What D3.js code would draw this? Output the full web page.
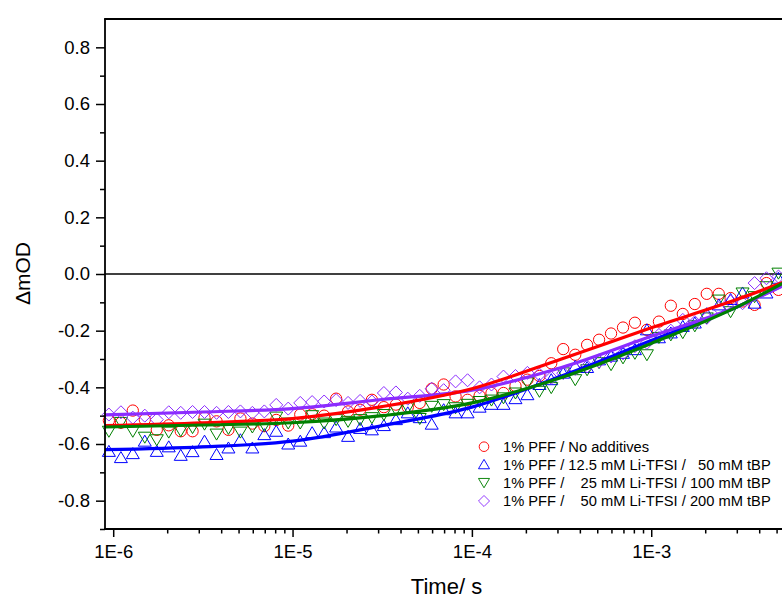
<!DOCTYPE html>
<html>
<head>
<meta charset="utf-8">
<script src="https://cdn.jsdelivr.net/npm/d3@7/dist/d3.min.js"></script>
<style>
  html, body { margin: 0; padding: 0; background: #fff; }
  svg { display: block; }
  text { font-family: "Liberation Sans", Arial, sans-serif; fill: #000; }
</style>
</head>
<body>
<svg id="chart" width="782" height="598"></svg>
<script>
// ---- data ----
const times = [
  9.46e-7, 1.104e-6, 1.286e-6, 1.50e-6, 1.75e-6, 2.04e-6, 2.38e-6, 2.77e-6, 3.23e-6, 3.77e-6, 4.39e-6, 5.12e-6, 5.97e-6, 6.96e-6, 8.11e-6,
  9.46e-6, 1.104e-5, 1.286e-5, 1.50e-5, 1.75e-5, 2.04e-5, 2.38e-5, 2.77e-5, 3.23e-5, 3.77e-5, 4.39e-5, 5.12e-5, 5.97e-5, 6.96e-5, 8.11e-5,
  9.46e-5, 1.104e-4, 1.286e-4, 1.50e-4, 1.75e-4, 2.04e-4, 2.38e-4, 2.77e-4, 3.23e-4, 3.77e-4, 4.39e-4, 5.12e-4, 5.97e-4, 6.96e-4, 8.11e-4,
  9.46e-4, 1.104e-3, 1.286e-3, 1.50e-3, 1.75e-3, 2.04e-3, 2.38e-3, 2.77e-3, 3.23e-3, 3.77e-3, 4.39e-3, 5.12e-3
];
const noAdditives = [
  -0.517, -0.525, -0.482, -0.514, -0.550, -0.534, -0.555, -0.555, -0.507, -0.520, -0.550, -0.510, -0.528, -0.537, -0.515,
  -0.535, -0.496, -0.495, -0.500, -0.440, -0.485, -0.479, -0.444, -0.470, -0.461, -0.470, -0.455, -0.405, -0.390, -0.432,
  -0.444, -0.430, -0.420, -0.420, -0.395, -0.373, -0.360, -0.315, -0.265, -0.285, -0.250, -0.232, -0.210, -0.189, -0.172,
  -0.197, -0.168, -0.112, -0.141, -0.106, -0.070, -0.070, -0.085, -0.097, -0.109, -0.032, -0.056
];
const li125 = [
  -0.626, -0.648, -0.634, -0.590, -0.626, -0.610, -0.640, -0.627, -0.590, -0.637, -0.614, -0.585, -0.614, -0.567, -0.555,
  -0.600, -0.590, -0.560, -0.560, -0.540, -0.573, -0.545, -0.550, -0.535, -0.514, -0.490, -0.507, -0.530, -0.479, -0.490,
  -0.490, -0.470, -0.460, -0.460, -0.440, -0.426, -0.390, -0.373, -0.350, -0.326, -0.330, -0.303, -0.290, -0.280, -0.267,
  -0.197, -0.225, -0.208, -0.185, -0.173, -0.140, -0.109, -0.090, -0.067, -0.103, -0.067, -0.015
];
const li25 = [
  -0.555, -0.524, -0.555, -0.576, -0.585, -0.558, -0.553, -0.542, -0.530, -0.565, -0.545, -0.558, -0.540, -0.535, -0.505,
  -0.526, -0.526, -0.500, -0.526, -0.514, -0.520, -0.514, -0.507, -0.496, -0.479, -0.472, -0.510, -0.467, -0.461, -0.472,
  -0.460, -0.450, -0.445, -0.437, -0.420, -0.384, -0.414, -0.401, -0.349, -0.373, -0.338, -0.313, -0.320, -0.296, -0.280,
  -0.285, -0.224, -0.215, -0.207, -0.183, -0.155, -0.092, -0.133, -0.067, -0.080, -0.045, 0.003
];
const li50 = [
  -0.496, -0.488, -0.507, -0.500, -0.514, -0.488, -0.490, -0.487, -0.487, -0.490, -0.487, -0.485, -0.490, -0.485, -0.462,
  -0.475, -0.455, -0.452, -0.450, -0.445, -0.455, -0.448, -0.450, -0.420, -0.418, -0.440, -0.430, -0.405, -0.410, -0.379,
  -0.375, -0.400, -0.390, -0.362, -0.360, -0.349, -0.355, -0.366, -0.350, -0.335, -0.326, -0.309, -0.291, -0.280, -0.255,
  -0.243, -0.215, -0.200, -0.162, -0.170, -0.155, -0.120, -0.097, -0.103, -0.032, -0.015, -0.009
];
// fitted curves
const fitTimes = [9e-7, 3.16e-6, 1e-5, 3.16e-5, 1e-4, 3.16e-4, 1e-3, 3.16e-3, 5.4e-3];
const fitNoAdditives = [-0.535, -0.525, -0.510, -0.468, -0.405, -0.300, -0.190, -0.085, -0.030];
const fitLi125 = [-0.620, -0.610, -0.590, -0.535, -0.470, -0.360, -0.235, -0.110, -0.040];
const fitLi25 = [-0.540, -0.533, -0.525, -0.500, -0.455, -0.365, -0.245, -0.110, -0.033];
const fitLi50 = [-0.497, -0.487, -0.475, -0.443, -0.410, -0.330, -0.220, -0.110, -0.042];

const seriesNames = [
  "1% PFF / No additives",
  "1% PFF / 12.5 mM Li-TFSI /   50 mM tBP",
  "1% PFF /    25 mM Li-TFSI / 100 mM tBP",
  "1% PFF /    50 mM Li-TFSI / 200 mM tBP"
];
const yTickLabels = ["-0.8", "-0.6", "-0.4", "-0.2", "0.0", "0.2", "0.4", "0.6", "0.8"];
const xTickLabels = ["1E-6", "1E-5", "1E-4", "1E-3"];

// ---- layout ----
const svg = d3.select("#chart");
const W = 782, H = 598;
const mLeft = 105, mTop = 19, mBottom = 529, mRight = 782;

const x = d3.scaleLog().domain([9e-7, 5.36e-3]).range([mLeft, mRight]);
const y = d3.scaleLinear().domain([-0.9, 0.9]).range([mBottom, mTop]);

svg.append("rect").attr("width", W).attr("height", H).attr("fill", "#fff");

const series = [
  { name: seriesNames[0], vals: noAdditives, fit: fitNoAdditives, mColor: "#ff0000", lColor: "#ff0000", sym: "circle" },
  { name: seriesNames[1], vals: li125, fit: fitLi125, mColor: "#0000ff", lColor: "#0000ff", sym: "up" },
  { name: seriesNames[2], vals: li25, fit: fitLi25, mColor: "#008000", lColor: "#008000", sym: "down" },
  { name: seriesNames[3], vals: li50, fit: fitLi50, mColor: "#8b2cff", lColor: "#8b2cff", sym: "diamond" }
];

function symPath(sym) {
  if (sym === "circle") return d3.symbol(d3.symbolCircle, 100)();
  if (sym === "up") return "M0,-6L6.5,5L-6.5,5Z";
  if (sym === "down") return "M0,6L6.5,-5L-6.5,-5Z";
  return "M0,-6.5L6.5,0L0,6.5L-6.5,0Z";
}

// zero line
svg.append("line")
  .attr("x1", mLeft).attr("x2", mRight)
  .attr("y1", y(0)).attr("y2", y(0))
  .attr("stroke", "#000").attr("stroke-width", 1.6);

// markers
const plot = svg.append("g");
series.forEach(s => {
  plot.append("g").selectAll("path")
    .data(times.map((t, i) => [t, s.vals[i]]))
    .join("path")
    .attr("d", symPath(s.sym))
    .attr("transform", d => `translate(${x(d[0])},${y(d[1])})`)
    .attr("fill", "none")
    .attr("stroke", s.mColor)
    .attr("stroke-width", 1);
});

// fit lines
const line = d3.line().x(d => x(d[0])).y(d => y(d[1])).curve(d3.curveMonotoneX);
[1, 3, 0, 2].forEach(i => {
  const s = series[i];
  plot.append("path")
    .datum(fitTimes.map((t, j) => [t, s.fit[j]]))
    .attr("d", line)
    .attr("fill", "none")
    .attr("stroke", s.lColor)
    .attr("stroke-width", 3.2);
});

// axes
const yMajor = yTickLabels.map(Number);
const yMinor = [-0.9, -0.7, -0.5, -0.3, -0.1, 0.1, 0.3, 0.5, 0.7];
const yAxis = svg.append("g").attr("transform", `translate(${mLeft},0)`)
  .call(d3.axisLeft(y).tickValues(yMajor).tickFormat((d, i) => yTickLabels[i]).tickSize(9).tickPadding(6));
const yAxisMinor = svg.append("g").attr("transform", `translate(${mLeft},0)`)
  .call(d3.axisLeft(y).tickValues(yMinor).tickFormat("").tickSize(5));

const xMajor = [1e-6, 1e-5, 1e-4, 1e-3];
const xMinor = [];
[1e-6, 1e-5, 1e-4, 1e-3].forEach(dec => { for (let m = 2; m <= 9; m++) { const v = m * dec; if (v < 5.36e-3) xMinor.push(v); } });
const xAxis = svg.append("g").attr("transform", `translate(0,${mBottom})`)
  .call(d3.axisBottom(x).tickValues(xMajor).tickFormat((d, i) => xTickLabels[i]).tickSize(8).tickPadding(8));
const xAxisMinor = svg.append("g").attr("transform", `translate(0,${mBottom})`)
  .call(d3.axisBottom(x).tickValues(xMinor).tickFormat("").tickSize(4.5));

[yAxis, yAxisMinor, xAxis, xAxisMinor].forEach(g => {
  g.select(".domain").remove();
  g.selectAll(".tick line").attr("stroke", "#000").attr("stroke-width", 1.5);
  g.selectAll("text").attr("font-size", 18.5).attr("font-family", "Liberation Sans, Arial, sans-serif").attr("fill", "#000");
});

// frame lines
svg.append("line").attr("x1", mLeft).attr("x2", mLeft).attr("y1", mTop).attr("y2", mBottom + 0.8)
  .attr("stroke", "#000").attr("stroke-width", 1.8);
svg.append("line").attr("x1", mLeft - 0.9).attr("x2", mRight).attr("y1", mBottom).attr("y2", mBottom)
  .attr("stroke", "#000").attr("stroke-width", 1.8);
svg.append("line").attr("x1", mLeft - 0.9).attr("x2", mRight).attr("y1", mTop).attr("y2", mTop)
  .attr("stroke", "#000").attr("stroke-width", 1.8);

// axis titles
svg.append("text")
  .attr("x", 446.5).attr("y", 594)
  .attr("text-anchor", "middle").attr("font-size", 22)
  .text("Time/ s");
svg.append("text")
  .attr("transform", `translate(30,${273.5}) rotate(-90)`)
  .attr("text-anchor", "middle").attr("font-size", 21)
  .text("ΔmOD");

// legend
const legend = svg.append("g");
const legY = [446.7, 464.5, 482.7, 501];
series.forEach((s, i) => {
  legend.append("path")
    .attr("d", symPath(s.sym))
    .attr("transform", `translate(484,${legY[i]}) scale(0.85)`)
    .attr("fill", "none").attr("stroke", s.mColor).attr("stroke-width", 1.1);
  legend.append("text")
    .attr("x", 503).attr("y", legY[i] + 5)
    .attr("font-size", 14.7)
    .style("white-space", "pre")
    .attr("xml:space", "preserve")
    .text(s.name);
});
</script>
</body>
</html>
